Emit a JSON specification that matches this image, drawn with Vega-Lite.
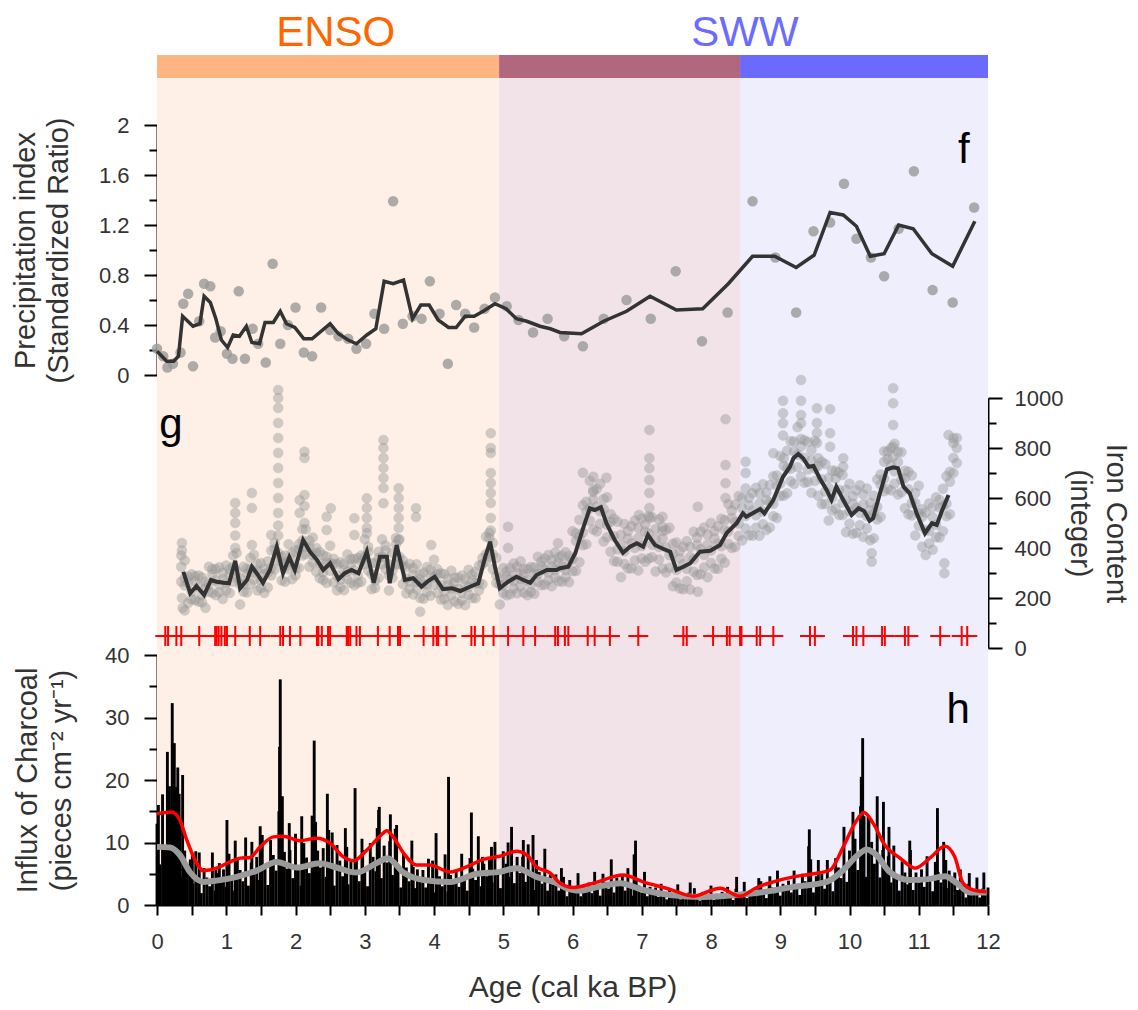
{
"$schema":"https://vega.github.io/schema/vega-lite/v6.json",
"width":831,"height":850,"autosize":"none",
"padding":{"left":157,"top":55,"right":150,"bottom":105},
"background":"white",
"config":{"font":"Liberation Sans","view":{"stroke":null},
"axis":{"domainColor":"#000","domainWidth":2,"tickColor":"#000","tickWidth":2,"labelFont":"Liberation Sans","labelFontSize":22,"labelColor":"#333","titleFont":"Liberation Sans","titleFontSize":29,"titleColor":"#333","titleFontWeight":"normal","grid":false,"labelOverlap":false,"labelFlush":false},
"text":{"font":"Liberation Sans"}},
"datasets":{
"regions":[{"r":"ENSO","s":0,"e":4.94},{"r":"mix","s":4.94,"e":8.42},{"r":"SWW","s":8.42,"e":12}],
"f_line":[{"a":0.0,"v":0.19},{"a":0.14,"v":0.11},{"a":0.24,"v":0.11},{"a":0.31,"v":0.15},{"a":0.37,"v":0.47},{"a":0.52,"v":0.39},{"a":0.62,"v":0.41},{"a":0.68,"v":0.63},{"a":0.77,"v":0.58},{"a":0.85,"v":0.45},{"a":0.93,"v":0.28},{"a":1.02,"v":0.22},{"a":1.10,"v":0.32},{"a":1.19,"v":0.31},{"a":1.29,"v":0.39},{"a":1.37,"v":0.26},{"a":1.48,"v":0.25},{"a":1.56,"v":0.42},{"a":1.68,"v":0.42},{"a":1.78,"v":0.51},{"a":1.87,"v":0.41},{"a":1.99,"v":0.38},{"a":2.12,"v":0.29},{"a":2.24,"v":0.29},{"a":2.50,"v":0.41},{"a":2.62,"v":0.33},{"a":2.76,"v":0.28},{"a":2.88,"v":0.25},{"a":3.03,"v":0.32},{"a":3.16,"v":0.37},{"a":3.28,"v":0.75},{"a":3.41,"v":0.73},{"a":3.56,"v":0.76},{"a":3.69,"v":0.45},{"a":3.81,"v":0.56},{"a":3.93,"v":0.56},{"a":4.06,"v":0.44},{"a":4.21,"v":0.38},{"a":4.32,"v":0.38},{"a":4.45,"v":0.47},{"a":4.58,"v":0.47},{"a":4.71,"v":0.51},{"a":4.88,"v":0.57},{"a":5.04,"v":0.53},{"a":5.19,"v":0.45},{"a":5.34,"v":0.43},{"a":5.53,"v":0.39},{"a":5.68,"v":0.37},{"a":5.82,"v":0.34},{"a":6.13,"v":0.33},{"a":6.45,"v":0.43},{"a":6.78,"v":0.51},{"a":7.12,"v":0.63},{"a":7.50,"v":0.52},{"a":7.88,"v":0.53},{"a":8.25,"v":0.73},{"a":8.60,"v":0.95},{"a":8.92,"v":0.95},{"a":9.23,"v":0.86},{"a":9.49,"v":0.96},{"a":9.72,"v":1.30},{"a":9.91,"v":1.28},{"a":10.10,"v":1.19},{"a":10.30,"v":0.95},{"a":10.50,"v":0.97},{"a":10.71,"v":1.20},{"a":10.92,"v":1.17},{"a":11.19,"v":0.97},{"a":11.49,"v":0.87},{"a":11.81,"v":1.23}],
"f_pts":[{"a":0.0,"v":0.21},{"a":0.09,"v":0.15},{"a":0.15,"v":0.06},{"a":0.23,"v":0.09},{"a":0.34,"v":0.18},{"a":0.38,"v":0.57},{"a":0.45,"v":0.65},{"a":0.52,"v":0.07},{"a":0.61,"v":0.43},{"a":0.68,"v":0.73},{"a":0.77,"v":0.71},{"a":0.84,"v":0.30},{"a":0.92,"v":0.35},{"a":1.01,"v":0.17},{"a":1.09,"v":0.13},{"a":1.18,"v":0.67},{"a":1.27,"v":0.13},{"a":1.38,"v":0.37},{"a":1.46,"v":0.25},{"a":1.57,"v":0.10},{"a":1.67,"v":0.89},{"a":1.78,"v":0.25},{"a":1.89,"v":0.40},{"a":2.00,"v":0.54},{"a":2.12,"v":0.18},{"a":2.24,"v":0.15},{"a":2.37,"v":0.54},{"a":2.50,"v":0.36},{"a":2.62,"v":0.31},{"a":2.76,"v":0.29},{"a":2.88,"v":0.21},{"a":3.02,"v":0.25},{"a":3.14,"v":0.49},{"a":3.28,"v":0.37},{"a":3.41,"v":1.39},{"a":3.55,"v":0.41},{"a":3.69,"v":0.47},{"a":3.82,"v":0.45},{"a":3.94,"v":0.75},{"a":4.08,"v":0.49},{"a":4.20,"v":0.09},{"a":4.32,"v":0.56},{"a":4.45,"v":0.49},{"a":4.58,"v":0.38},{"a":4.73,"v":0.53},{"a":4.88,"v":0.62},{"a":5.05,"v":0.55},{"a":5.22,"v":0.44},{"a":5.43,"v":0.34},{"a":5.64,"v":0.45},{"a":5.88,"v":0.31},{"a":6.15,"v":0.23},{"a":6.45,"v":0.45},{"a":6.78,"v":0.60},{"a":7.13,"v":0.45},{"a":7.49,"v":0.83},{"a":7.87,"v":0.27},{"a":8.24,"v":0.50},{"a":8.60,"v":1.39},{"a":8.93,"v":0.94},{"a":9.23,"v":0.50},{"a":9.48,"v":1.15},{"a":9.72,"v":1.22},{"a":9.92,"v":1.53},{"a":10.10,"v":1.09},{"a":10.31,"v":0.94},{"a":10.50,"v":0.79},{"a":10.71,"v":1.17},{"a":10.93,"v":1.63},{"a":11.20,"v":0.68},{"a":11.49,"v":0.58},{"a":11.80,"v":1.34}],
"g_line":[{"a":0.38,"v":305},{"a":0.48,"v":219},{"a":0.57,"v":248},{"a":0.68,"v":212},{"a":0.78,"v":272},{"a":0.86,"v":265},{"a":0.96,"v":261},{"a":1.04,"v":259},{"a":1.13,"v":349},{"a":1.20,"v":239},{"a":1.30,"v":272},{"a":1.37,"v":325},{"a":1.44,"v":299},{"a":1.53,"v":261},{"a":1.63,"v":312},{"a":1.73,"v":405},{"a":1.82,"v":299},{"a":1.91,"v":363},{"a":1.99,"v":312},{"a":2.11,"v":432},{"a":2.21,"v":385},{"a":2.31,"v":352},{"a":2.40,"v":312},{"a":2.50,"v":339},{"a":2.62,"v":275},{"a":2.71,"v":299},{"a":2.81,"v":312},{"a":2.91,"v":299},{"a":3.03,"v":385},{"a":3.13,"v":261},{"a":3.22,"v":365},{"a":3.32,"v":365},{"a":3.36,"v":259},{"a":3.46,"v":412},{"a":3.58,"v":272},{"a":3.70,"v":279},{"a":3.82,"v":245},{"a":3.92,"v":269},{"a":4.01,"v":285},{"a":4.13,"v":235},{"a":4.26,"v":239},{"a":4.38,"v":228},{"a":4.52,"v":245},{"a":4.64,"v":259},{"a":4.74,"v":365},{"a":4.81,"v":425},{"a":4.88,"v":325},{"a":4.95,"v":239},{"a":5.07,"v":265},{"a":5.19,"v":285},{"a":5.29,"v":272},{"a":5.39,"v":261},{"a":5.48,"v":292},{"a":5.63,"v":312},{"a":5.77,"v":312},{"a":5.82,"v":319},{"a":5.94,"v":325},{"a":6.04,"v":379},{"a":6.16,"v":485},{"a":6.25,"v":559},{"a":6.32,"v":552},{"a":6.41,"v":563},{"a":6.49,"v":499},{"a":6.61,"v":432},{"a":6.73,"v":381},{"a":6.83,"v":405},{"a":6.93,"v":419},{"a":7.02,"v":405},{"a":7.09,"v":452},{"a":7.19,"v":412},{"a":7.29,"v":399},{"a":7.41,"v":385},{"a":7.50,"v":312},{"a":7.60,"v":325},{"a":7.70,"v":339},{"a":7.84,"v":385},{"a":7.99,"v":389},{"a":8.13,"v":412},{"a":8.23,"v":461},{"a":8.37,"v":499},{"a":8.46,"v":539},{"a":8.51,"v":525},{"a":8.71,"v":556},{"a":8.77,"v":539},{"a":8.90,"v":592},{"a":9.04,"v":685},{"a":9.14,"v":725},{"a":9.19,"v":759},{"a":9.26,"v":776},{"a":9.33,"v":759},{"a":9.41,"v":725},{"a":9.48,"v":728},{"a":9.57,"v":679},{"a":9.67,"v":632},{"a":9.74,"v":592},{"a":9.81,"v":645},{"a":9.91,"v":592},{"a":10.03,"v":532},{"a":10.13,"v":559},{"a":10.21,"v":548},{"a":10.29,"v":509},{"a":10.34,"v":519},{"a":10.44,"v":619},{"a":10.54,"v":715},{"a":10.63,"v":723},{"a":10.70,"v":719},{"a":10.78,"v":645},{"a":10.87,"v":619},{"a":10.97,"v":539},{"a":11.09,"v":459},{"a":11.19,"v":499},{"a":11.26,"v":492},{"a":11.33,"v":545},{"a":11.43,"v":612}],
"g_pts":[
{"a":0.35,"v":265},{"a":0.35,"v":325},{"a":0.35,"v":370},{"a":0.40,"v":250},{"a":0.40,"v":280},{"a":0.40,"v":350},{"a":0.45,"v":180},{"a":0.45,"v":260},{"a":0.45,"v":285},{"a":0.50,"v":195},{"a":0.50,"v":225},{"a":0.50,"v":295},{"a":0.55,"v":192},{"a":0.55,"v":267},{"a":0.55,"v":287},{"a":0.60,"v":185},{"a":0.60,"v":245},{"a":0.60,"v":290},{"a":0.65,"v":182},{"a":0.65,"v":212},{"a":0.65,"v":282},{"a":0.70,"v":160},{"a":0.70,"v":240},{"a":0.70,"v":265},{"a":0.75,"v":225},{"a":0.75,"v":255},{"a":0.75,"v":325},{"a":0.80,"v":220},{"a":0.80,"v":295},{"a":0.80,"v":315},{"a":0.85,"v":211},{"a":0.85,"v":271},{"a":0.85,"v":316},{"a":0.90,"v":223},{"a":0.90,"v":253},{"a":0.90,"v":323},{"a":0.95,"v":196},{"a":0.95,"v":276},{"a":0.95,"v":301},{"a":1.00,"v":230},{"a":1.00,"v":260},{"a":1.00,"v":330},{"a":1.05,"v":220},{"a":1.05,"v":295},{"a":1.05,"v":315},{"a":1.10,"v":265},{"a":1.10,"v":325},{"a":1.10,"v":370},{"a":1.15,"v":280},{"a":1.15,"v":310},{"a":1.15,"v":380},{"a":1.20,"v":174},{"a":1.20,"v":254},{"a":1.20,"v":279},{"a":1.25,"v":225},{"a":1.25,"v":255},{"a":1.25,"v":325},{"a":1.30,"v":222},{"a":1.30,"v":297},{"a":1.30,"v":317},{"a":1.35,"v":255},{"a":1.35,"v":315},{"a":1.35,"v":360},{"a":1.40,"v":273},{"a":1.40,"v":303},{"a":1.40,"v":373},{"a":1.45,"v":230},{"a":1.45,"v":310},{"a":1.45,"v":335},{"a":1.50,"v":240},{"a":1.50,"v":270},{"a":1.50,"v":340},{"a":1.55,"v":220},{"a":1.55,"v":295},{"a":1.55,"v":315},{"a":1.60,"v":242},{"a":1.60,"v":302},{"a":1.60,"v":347},{"a":1.65,"v":290},{"a":1.65,"v":320},{"a":1.65,"v":390},{"a":1.70,"v":315},{"a":1.70,"v":395},{"a":1.70,"v":420},{"a":1.75,"v":350},{"a":1.75,"v":380},{"a":1.75,"v":450},{"a":1.80,"v":270},{"a":1.80,"v":345},{"a":1.80,"v":365},{"a":1.85,"v":265},{"a":1.85,"v":325},{"a":1.85,"v":370},{"a":1.90,"v":315},{"a":1.90,"v":345},{"a":1.90,"v":415},{"a":1.95,"v":275},{"a":1.95,"v":355},{"a":1.95,"v":380},{"a":2.00,"v":290},{"a":2.00,"v":320},{"a":2.00,"v":390},{"a":2.05,"v":320},{"a":2.05,"v":395},{"a":2.05,"v":415},{"a":2.10,"v":370},{"a":2.10,"v":430},{"a":2.10,"v":475},{"a":2.15,"v":375},{"a":2.15,"v":405},{"a":2.15,"v":475},{"a":2.20,"v":325},{"a":2.20,"v":405},{"a":2.20,"v":430},{"a":2.25,"v":342},{"a":2.25,"v":372},{"a":2.25,"v":442},{"a":2.30,"v":305},{"a":2.30,"v":380},{"a":2.30,"v":400},{"a":2.35,"v":279},{"a":2.35,"v":339},{"a":2.35,"v":384},{"a":2.40,"v":272},{"a":2.40,"v":302},{"a":2.40,"v":372},{"a":2.45,"v":260},{"a":2.45,"v":340},{"a":2.45,"v":365},{"a":2.50,"v":309},{"a":2.50,"v":339},{"a":2.50,"v":409},{"a":2.55,"v":262},{"a":2.55,"v":337},{"a":2.55,"v":357},{"a":2.60,"v":230},{"a":2.60,"v":290},{"a":2.60,"v":335},{"a":2.65,"v":243},{"a":2.65,"v":273},{"a":2.65,"v":343},{"a":2.70,"v":231},{"a":2.70,"v":311},{"a":2.70,"v":336},{"a":2.75,"v":274},{"a":2.75,"v":304},{"a":2.75,"v":374},{"a":2.80,"v":261},{"a":2.80,"v":336},{"a":2.80,"v":356},{"a":2.85,"v":251},{"a":2.85,"v":311},{"a":2.85,"v":356},{"a":2.90,"v":260},{"a":2.90,"v":290},{"a":2.90,"v":360},{"a":2.95,"v":265},{"a":2.95,"v":345},{"a":2.95,"v":370},{"a":3.00,"v":335},{"a":3.00,"v":365},{"a":3.00,"v":435},{"a":3.05,"v":310},{"a":3.05,"v":385},{"a":3.05,"v":405},{"a":3.10,"v":235},{"a":3.10,"v":295},{"a":3.10,"v":340},{"a":3.15,"v":240},{"a":3.15,"v":270},{"a":3.15,"v":340},{"a":3.20,"v":280},{"a":3.20,"v":360},{"a":3.20,"v":385},{"a":3.25,"v":335},{"a":3.25,"v":365},{"a":3.25,"v":435},{"a":3.30,"v":315},{"a":3.30,"v":390},{"a":3.30,"v":410},{"a":3.35,"v":230},{"a":3.35,"v":290},{"a":3.35,"v":335},{"a":3.40,"v":280},{"a":3.40,"v":310},{"a":3.40,"v":380},{"a":3.45,"v":335},{"a":3.45,"v":415},{"a":3.45,"v":440},{"a":3.50,"v":335},{"a":3.50,"v":365},{"a":3.50,"v":435},{"a":3.55,"v":255},{"a":3.55,"v":330},{"a":3.55,"v":350},{"a":3.60,"v":218},{"a":3.60,"v":278},{"a":3.60,"v":323},{"a":3.65,"v":236},{"a":3.65,"v":266},{"a":3.65,"v":336},{"a":3.70,"v":214},{"a":3.70,"v":294},{"a":3.70,"v":319},{"a":3.75,"v":235},{"a":3.75,"v":265},{"a":3.75,"v":335},{"a":3.80,"v":200},{"a":3.80,"v":275},{"a":3.80,"v":295},{"a":3.85,"v":197},{"a":3.85,"v":257},{"a":3.85,"v":302},{"a":3.90,"v":224},{"a":3.90,"v":254},{"a":3.90,"v":324},{"a":3.95,"v":209},{"a":3.95,"v":289},{"a":3.95,"v":314},{"a":4.00,"v":253},{"a":4.00,"v":283},{"a":4.00,"v":353},{"a":4.05,"v":220},{"a":4.05,"v":295},{"a":4.05,"v":315},{"a":4.10,"v":193},{"a":4.10,"v":253},{"a":4.10,"v":298},{"a":4.15,"v":196},{"a":4.15,"v":226},{"a":4.15,"v":296},{"a":4.20,"v":172},{"a":4.20,"v":252},{"a":4.20,"v":277},{"a":4.25,"v":209},{"a":4.25,"v":239},{"a":4.25,"v":309},{"a":4.30,"v":186},{"a":4.30,"v":261},{"a":4.30,"v":281},{"a":4.35,"v":176},{"a":4.35,"v":236},{"a":4.35,"v":281},{"a":4.40,"v":190},{"a":4.40,"v":220},{"a":4.40,"v":290},{"a":4.45,"v":171},{"a":4.45,"v":251},{"a":4.45,"v":276},{"a":4.50,"v":213},{"a":4.50,"v":243},{"a":4.50,"v":313},{"a":4.55,"v":199},{"a":4.55,"v":274},{"a":4.55,"v":294},{"a":4.60,"v":199},{"a":4.60,"v":259},{"a":4.60,"v":304},{"a":4.65,"v":230},{"a":4.65,"v":260},{"a":4.65,"v":330},{"a":4.70,"v":255},{"a":4.70,"v":335},{"a":4.70,"v":360},{"a":4.75,"v":345},{"a":4.75,"v":375},{"a":4.75,"v":445},{"a":4.80,"v":365},{"a":4.80,"v":440},{"a":4.80,"v":460},{"a":4.85,"v":315},{"a":4.85,"v":375},{"a":4.85,"v":420},{"a":4.90,"v":260},{"a":4.90,"v":290},{"a":4.90,"v":360},{"a":4.95,"v":174},{"a":4.95,"v":254},{"a":4.95,"v":279},{"a":5.00,"v":220},{"a":5.00,"v":250},{"a":5.00,"v":320},{"a":5.05,"v":211},{"a":5.05,"v":286},{"a":5.05,"v":306},{"a":5.10,"v":215},{"a":5.10,"v":275},{"a":5.10,"v":320},{"a":5.15,"v":238},{"a":5.15,"v":268},{"a":5.15,"v":338},{"a":5.20,"v":219},{"a":5.20,"v":299},{"a":5.20,"v":324},{"a":5.25,"v":247},{"a":5.25,"v":277},{"a":5.25,"v":347},{"a":5.30,"v":221},{"a":5.30,"v":296},{"a":5.30,"v":316},{"a":5.35,"v":211},{"a":5.35,"v":271},{"a":5.35,"v":316},{"a":5.40,"v":224},{"a":5.40,"v":254},{"a":5.40,"v":324},{"a":5.45,"v":217},{"a":5.45,"v":297},{"a":5.45,"v":322},{"a":5.50,"v":265},{"a":5.50,"v":295},{"a":5.50,"v":365},{"a":5.55,"v":251},{"a":5.55,"v":326},{"a":5.55,"v":346},{"a":5.60,"v":253},{"a":5.60,"v":313},{"a":5.60,"v":358},{"a":5.65,"v":272},{"a":5.65,"v":302},{"a":5.65,"v":372},{"a":5.70,"v":247},{"a":5.70,"v":327},{"a":5.70,"v":352},{"a":5.75,"v":282},{"a":5.75,"v":312},{"a":5.75,"v":382},{"a":5.80,"v":267},{"a":5.80,"v":342},{"a":5.80,"v":362},{"a":5.85,"v":265},{"a":5.85,"v":325},{"a":5.85,"v":370},{"a":5.90,"v":283},{"a":5.90,"v":313},{"a":5.90,"v":383},{"a":5.95,"v":263},{"a":5.95,"v":343},{"a":5.95,"v":368},
{"a":6.00,"v":307},{"a":6.00,"v":357},{"a":6.00,"v":467},{"a":6.05,"v":308},{"a":6.05,"v":428},{"a":6.05,"v":458},{"a":6.10,"v":343},{"a":6.10,"v":443},{"a":6.10,"v":513},{"a":6.15,"v":411},{"a":6.15,"v":461},{"a":6.15,"v":571},{"a":6.20,"v":415},{"a":6.20,"v":545},{"a":6.20,"v":585},{"a":6.25,"v":509},{"a":6.25,"v":559},{"a":6.25,"v":669},{"a":6.30,"v":474},{"a":6.30,"v":594},{"a":6.30,"v":624},{"a":6.35,"v":466},{"a":6.35,"v":566},{"a":6.35,"v":636},{"a":6.40,"v":497},{"a":6.40,"v":547},{"a":6.40,"v":657},{"a":6.45,"v":426},{"a":6.45,"v":556},{"a":6.45,"v":596},{"a":6.50,"v":443},{"a":6.50,"v":493},{"a":6.50,"v":603},{"a":6.55,"v":385},{"a":6.55,"v":505},{"a":6.55,"v":535},{"a":6.60,"v":347},{"a":6.60,"v":447},{"a":6.60,"v":517},{"a":6.65,"v":345},{"a":6.65,"v":395},{"a":6.65,"v":505},{"a":6.70,"v":283},{"a":6.70,"v":413},{"a":6.70,"v":453},{"a":6.75,"v":336},{"a":6.75,"v":386},{"a":6.75,"v":496},{"a":6.80,"v":318},{"a":6.80,"v":438},{"a":6.80,"v":468},{"a":6.85,"v":318},{"a":6.85,"v":418},{"a":6.85,"v":488},{"a":6.90,"v":350},{"a":6.90,"v":400},{"a":6.90,"v":510},{"a":6.95,"v":310},{"a":6.95,"v":440},{"a":6.95,"v":480},{"a":7.00,"v":358},{"a":7.00,"v":408},{"a":7.00,"v":518},{"a":7.05,"v":345},{"a":7.05,"v":465},{"a":7.05,"v":495},{"a":7.10,"v":358},{"a":7.10,"v":458},{"a":7.10,"v":528},{"a":7.15,"v":363},{"a":7.15,"v":413},{"a":7.15,"v":523},{"a":7.20,"v":306},{"a":7.20,"v":436},{"a":7.20,"v":476},{"a":7.25,"v":354},{"a":7.25,"v":404},{"a":7.25,"v":514},{"a":7.30,"v":318},{"a":7.30,"v":438},{"a":7.30,"v":468},{"a":7.35,"v":302},{"a":7.35,"v":402},{"a":7.35,"v":472},{"a":7.40,"v":321},{"a":7.40,"v":371},{"a":7.40,"v":481},{"a":7.45,"v":247},{"a":7.45,"v":377},{"a":7.45,"v":417},{"a":7.50,"v":262},{"a":7.50,"v":312},{"a":7.50,"v":422},{"a":7.55,"v":238},{"a":7.55,"v":358},{"a":7.55,"v":388},{"a":7.60,"v":235},{"a":7.60,"v":335},{"a":7.60,"v":405},{"a":7.65,"v":267},{"a":7.65,"v":317},{"a":7.65,"v":427},{"a":7.70,"v":234},{"a":7.70,"v":364},{"a":7.70,"v":404},{"a":7.75,"v":305},{"a":7.75,"v":355},{"a":7.75,"v":465},{"a":7.80,"v":292},{"a":7.80,"v":412},{"a":7.80,"v":442},{"a":7.85,"v":295},{"a":7.85,"v":395},{"a":7.85,"v":465},{"a":7.90,"v":322},{"a":7.90,"v":372},{"a":7.90,"v":482},{"a":7.95,"v":283},{"a":7.95,"v":413},{"a":7.95,"v":453},{"a":8.00,"v":340},{"a":8.00,"v":390},{"a":8.00,"v":500},{"a":8.05,"v":318},{"a":8.05,"v":438},{"a":8.05,"v":468},{"a":8.10,"v":317},{"a":8.10,"v":417},{"a":8.10,"v":487},{"a":8.15,"v":357},{"a":8.15,"v":407},{"a":8.15,"v":517},{"a":8.20,"v":341},{"a":8.20,"v":471},{"a":8.20,"v":511},{"a":8.25,"v":416},{"a":8.25,"v":466},{"a":8.25,"v":576},{"a":8.30,"v":400},{"a":8.30,"v":520},{"a":8.30,"v":550},{"a":8.35,"v":404},{"a":8.35,"v":504},{"a":8.35,"v":574},{"a":8.40,"v":448},{"a":8.40,"v":498},{"a":8.40,"v":608},{"a":8.45,"v":430},{"a":8.45,"v":560},{"a":8.45,"v":600},{"a":8.50,"v":478},{"a":8.50,"v":528},{"a":8.50,"v":638},{"a":8.55,"v":451},{"a":8.55,"v":571},{"a":8.55,"v":601},{"a":8.60,"v":449},{"a":8.60,"v":549},{"a":8.60,"v":619},{"a":8.65,"v":481},{"a":8.65,"v":531},{"a":8.65,"v":641},{"a":8.70,"v":449},{"a":8.70,"v":579},{"a":8.70,"v":619},{"a":8.75,"v":495},{"a":8.75,"v":545},{"a":8.75,"v":655},{"a":8.80,"v":472},{"a":8.80,"v":592},{"a":8.80,"v":622},{"a":8.85,"v":482},{"a":8.85,"v":582},{"a":8.85,"v":652},{"a":8.90,"v":527},{"a":8.90,"v":577},{"a":8.90,"v":687},{"a":8.95,"v":520},{"a":8.95,"v":650},{"a":8.95,"v":690},{"a":9.00,"v":608},{"a":9.00,"v":658},{"a":9.00,"v":768},{"a":9.05,"v":609},{"a":9.05,"v":729},{"a":9.05,"v":759},{"a":9.10,"v":619},{"a":9.10,"v":719},{"a":9.10,"v":789},{"a":9.15,"v":667},{"a":9.15,"v":717},{"a":9.15,"v":827},{"a":9.20,"v":656},{"a":9.20,"v":786},{"a":9.20,"v":826},{"a":9.25,"v":723},{"a":9.25,"v":773},{"a":9.25,"v":883},{"a":9.30,"v":686},{"a":9.30,"v":806},{"a":9.30,"v":836},{"a":9.35,"v":661},{"a":9.35,"v":761},{"a":9.35,"v":831},{"a":9.40,"v":664},{"a":9.40,"v":714},{"a":9.40,"v":824},{"a":9.45,"v":621},{"a":9.45,"v":751},{"a":9.45,"v":791},{"a":9.50,"v":668},{"a":9.50,"v":718},{"a":9.50,"v":828},{"a":9.55,"v":609},{"a":9.55,"v":729},{"a":9.55,"v":759},{"a":9.60,"v":575},{"a":9.60,"v":675},{"a":9.60,"v":745},{"a":9.65,"v":576},{"a":9.65,"v":626},{"a":9.65,"v":736},{"a":9.70,"v":510},{"a":9.70,"v":640},{"a":9.70,"v":680},{"a":9.75,"v":550},{"a":9.75,"v":600},{"a":9.75,"v":710},{"a":9.80,"v":558},{"a":9.80,"v":678},{"a":9.80,"v":708},{"a":9.85,"v":532},{"a":9.85,"v":632},{"a":9.85,"v":702},{"a":9.90,"v":532},{"a":9.90,"v":582},{"a":9.90,"v":692},{"a":9.95,"v":463},{"a":9.95,"v":593},{"a":9.95,"v":633},{"a":10.00,"v":497},{"a":10.00,"v":547},{"a":10.00,"v":657},{"a":10.05,"v":457},{"a":10.05,"v":577},{"a":10.05,"v":607},{"a":10.10,"v":461},{"a":10.10,"v":561},{"a":10.10,"v":631},{"a":10.15,"v":491},{"a":10.15,"v":541},{"a":10.15,"v":651},{"a":10.20,"v":444},{"a":10.20,"v":574},{"a":10.20,"v":614},{"a":10.25,"v":478},{"a":10.25,"v":528},{"a":10.25,"v":638},{"a":10.30,"v":431},{"a":10.30,"v":551},{"a":10.30,"v":581},{"a":10.35,"v":439},{"a":10.35,"v":539},{"a":10.35,"v":609},{"a":10.40,"v":514},{"a":10.40,"v":564},{"a":10.40,"v":674},{"a":10.45,"v":524},{"a":10.45,"v":654},{"a":10.45,"v":694},{"a":10.50,"v":627},{"a":10.50,"v":677},{"a":10.50,"v":787},{"a":10.55,"v":636},{"a":10.55,"v":756},{"a":10.55,"v":786},{"a":10.60,"v":630},{"a":10.60,"v":730},{"a":10.60,"v":800},{"a":10.65,"v":657},{"a":10.65,"v":707},{"a":10.65,"v":817},{"a":10.70,"v":614},{"a":10.70,"v":744},{"a":10.70,"v":784},{"a":10.75,"v":623},{"a":10.75,"v":673},{"a":10.75,"v":783},{"a":10.80,"v":559},{"a":10.80,"v":679},{"a":10.80,"v":709},{"a":10.85,"v":535},{"a":10.85,"v":635},{"a":10.85,"v":705},{"a":10.90,"v":530},{"a":10.90,"v":580},{"a":10.90,"v":690},{"a":10.95,"v":450},{"a":10.95,"v":580},{"a":10.95,"v":620},{"a":11.00,"v":489},{"a":11.00,"v":539},{"a":11.00,"v":649},{"a":11.05,"v":405},{"a":11.05,"v":525},{"a":11.05,"v":555},{"a":11.10,"v":372},{"a":11.10,"v":472},{"a":11.10,"v":542},{"a":11.15,"v":418},{"a":11.15,"v":468},{"a":11.15,"v":578},{"a":11.20,"v":393},{"a":11.20,"v":523},{"a":11.20,"v":563},{"a":11.25,"v":443},{"a":11.25,"v":493},{"a":11.25,"v":603},{"a":11.30,"v":442},{"a":11.30,"v":562},{"a":11.30,"v":592},{"a":11.35,"v":467},{"a":11.35,"v":567},{"a":11.35,"v":637},{"a":11.40,"v":527},{"a":11.40,"v":577},{"a":11.40,"v":687},{"a":11.45,"v":535},{"a":11.45,"v":665},{"a":11.45,"v":705},{"a":11.50,"v":700},{"a":11.50,"v":760},{"a":11.50,"v":820},{"a":11.55,"v":740},{"a":11.55,"v":800},{"a":11.55,"v":840},
{"a":0.36,"v":200},{"a":0.36,"v":420},{"a":0.36,"v":390},{"a":0.37,"v":160},{"a":0.40,"v":150},{"a":1.13,"v":400},{"a":1.13,"v":450},{"a":1.13,"v":500},{"a":1.13,"v":540},{"a":1.13,"v":580},{"a":1.37,"v":412},{"a":1.37,"v":560},{"a":1.37,"v":620},{"a":1.65,"v":452},{"a":1.75,"v":490},{"a":1.75,"v":540},{"a":1.75,"v":600},{"a":1.75,"v":660},{"a":1.75,"v":720},{"a":1.75,"v":780},{"a":1.75,"v":840},{"a":1.75,"v":900},{"a":1.75,"v":960},{"a":1.75,"v":1000},{"a":1.75,"v":1032},{"a":2.06,"v":592},{"a":2.06,"v":540},{"a":2.13,"v":785},{"a":2.13,"v":760},{"a":2.13,"v":612},{"a":2.13,"v":568},{"a":2.13,"v":500},{"a":2.45,"v":525},{"a":2.45,"v":472},{"a":2.51,"v":559},{"a":2.85,"v":519},{"a":2.85,"v":452},{"a":3.03,"v":599},{"a":3.03,"v":560},{"a":3.03,"v":520},{"a":3.03,"v":480},{"a":3.03,"v":459},{"a":3.27,"v":832},{"a":3.27,"v":800},{"a":3.27,"v":760},{"a":3.27,"v":720},{"a":3.27,"v":680},{"a":3.27,"v":640},{"a":3.27,"v":579},{"a":3.49,"v":639},{"a":3.49,"v":600},{"a":3.49,"v":560},{"a":3.49,"v":520},{"a":3.49,"v":480},{"a":3.49,"v":432},{"a":3.74,"v":559},{"a":3.74,"v":524},{"a":3.80,"v":145},{"a":3.96,"v":412},{"a":4.82,"v":859},{"a":4.82,"v":800},{"a":4.82,"v":780},{"a":4.82,"v":700},{"a":4.82,"v":660},{"a":4.82,"v":620},{"a":4.82,"v":580},{"a":4.82,"v":520},{"a":4.82,"v":470},{"a":5.07,"v":485},{"a":5.07,"v":400},{"a":5.79,"v":419},{"a":6.15,"v":701},{"a":6.30,"v":685},{"a":6.30,"v":632},{"a":6.49,"v":681},{"a":6.96,"v":532},{"a":7.11,"v":872},{"a":7.11,"v":759},{"a":7.11,"v":719},{"a":7.11,"v":672},{"a":7.11,"v":620},{"a":7.11,"v":560},{"a":7.11,"v":520},{"a":7.30,"v":525},{"a":7.30,"v":485},{"a":7.81,"v":565},{"a":7.81,"v":225},{"a":8.21,"v":915},{"a":8.21,"v":732},{"a":8.21,"v":659},{"a":8.21,"v":600},{"a":8.50,"v":745},{"a":8.50,"v":700},{"a":8.90,"v":779},{"a":9.04,"v":989},{"a":9.04,"v":939},{"a":9.04,"v":899},{"a":9.04,"v":850},{"a":9.30,"v":1072},{"a":9.30,"v":989},{"a":9.30,"v":932},{"a":9.30,"v":899},{"a":9.53,"v":959},{"a":9.53,"v":900},{"a":9.53,"v":860},{"a":9.53,"v":820},{"a":9.72,"v":955},{"a":9.72,"v":859},{"a":9.72,"v":805},{"a":9.91,"v":759},{"a":9.91,"v":725},{"a":10.32,"v":379},{"a":10.32,"v":345},{"a":10.50,"v":745},{"a":10.63,"v":1039},{"a":10.63,"v":979},{"a":10.63,"v":892},{"a":10.63,"v":805},{"a":10.63,"v":765},{"a":11.37,"v":339},{"a":11.37,"v":299},{"a":11.43,"v":852},{"a":11.50,"v":839}],
"crosses":[{"a":0.12},{"a":0.16},{"a":0.28},{"a":0.35},{"a":0.61},{"a":0.84},{"a":0.86},{"a":0.89},{"a":0.93},{"a":0.98},{"a":1.01},{"a":1.13},{"a":1.34},{"a":1.49},{"a":1.78},{"a":1.82},{"a":1.92},{"a":2.07},{"a":2.31},{"a":2.33},{"a":2.38},{"a":2.47},{"a":2.50},{"a":2.74},{"a":2.76},{"a":2.79},{"a":2.88},{"a":2.93},{"a":3.19},{"a":3.36},{"a":3.48},{"a":3.51},{"a":3.85},{"a":3.99},{"a":4.04},{"a":4.06},{"a":4.18},{"a":4.54},{"a":4.59},{"a":4.71},{"a":4.86},{"a":5.07},{"a":5.29},{"a":5.46},{"a":5.75},{"a":5.79},{"a":5.89},{"a":5.94},{"a":6.22},{"a":6.32},{"a":6.54},{"a":6.95},{"a":7.60},{"a":7.65},{"a":8.03},{"a":8.23},{"a":8.27},{"a":8.42},{"a":8.44},{"a":8.66},{"a":8.71},{"a":8.90},{"a":9.43},{"a":9.50},{"a":10.05},{"a":10.10},{"a":10.20},{"a":10.47},{"a":10.51},{"a":10.80},{"a":10.85},{"a":11.31},{"a":11.62},{"a":11.70}],
"h_bars":[{"a":0.00,"v":13.0},{"a":0.04,"v":6.5},{"a":0.08,"v":17.7},{"a":0.12,"v":9.2},{"a":0.16,"v":4.6},{"a":0.20,"v":14.7},{"a":0.24,"v":10.7},{"a":0.28,"v":6.7},{"a":0.32,"v":17.8},{"a":0.36,"v":4.5},{"a":0.40,"v":8.7},{"a":0.44,"v":5.3},{"a":0.48,"v":7.3},{"a":0.52,"v":3.4},{"a":0.56,"v":8.6},{"a":0.60,"v":4.2},{"a":0.64,"v":1.9},{"a":0.68,"v":5.9},{"a":0.72,"v":4.4},{"a":0.76,"v":3.0},{"a":0.80,"v":8.4},{"a":0.84,"v":2.3},{"a":0.88,"v":5.1},{"a":0.92,"v":3.6},{"a":0.96,"v":5.7},{"a":1.00,"v":2.9},{"a":1.04,"v":8.2},{"a":1.08,"v":4.4},{"a":1.12,"v":2.3},{"a":1.16,"v":7.2},{"a":1.20,"v":5.6},{"a":1.24,"v":3.8},{"a":1.28,"v":10.8},{"a":1.32,"v":3.1},{"a":1.36,"v":6.8},{"a":1.40,"v":4.9},{"a":1.44,"v":7.7},{"a":1.48,"v":4.0},{"a":1.52,"v":11.2},{"a":1.56,"v":6.1},{"a":1.60,"v":3.2},{"a":1.64,"v":10.4},{"a":1.68,"v":8.0},{"a":1.72,"v":5.5},{"a":1.76,"v":15.0},{"a":1.80,"v":4.0},{"a":1.84,"v":8.5},{"a":1.88,"v":5.8},{"a":1.92,"v":8.8},{"a":1.96,"v":4.3},{"a":2.00,"v":11.4},{"a":2.04,"v":6.0},{"a":2.08,"v":3.1},{"a":2.12,"v":9.9},{"a":2.16,"v":7.6},{"a":2.20,"v":5.1},{"a":2.24,"v":14.3},{"a":2.28,"v":4.0},{"a":2.32,"v":8.7},{"a":2.36,"v":6.0},{"a":2.40,"v":9.1},{"a":2.44,"v":4.5},{"a":2.48,"v":12.0},{"a":2.52,"v":6.2},{"a":2.56,"v":3.1},{"a":2.60,"v":9.6},{"a":2.64,"v":7.1},{"a":2.68,"v":4.6},{"a":2.72,"v":12.3},{"a":2.76,"v":3.3},{"a":2.80,"v":7.0},{"a":2.84,"v":4.8},{"a":2.88,"v":7.3},{"a":2.92,"v":3.8},{"a":2.96,"v":10.6},{"a":3.00,"v":5.8},{"a":3.04,"v":3.0},{"a":3.08,"v":9.9},{"a":3.12,"v":7.7},{"a":3.16,"v":5.4},{"a":3.20,"v":15.2},{"a":3.24,"v":4.3},{"a":3.28,"v":9.5},{"a":3.32,"v":6.8},{"a":3.36,"v":10.2},{"a":3.40,"v":4.8},{"a":3.44,"v":12.2},{"a":3.48,"v":6.0},{"a":3.52,"v":2.8},{"a":3.56,"v":8.3},{"a":3.60,"v":6.0},{"a":3.64,"v":3.8},{"a":3.68,"v":10.3},{"a":3.72,"v":2.7},{"a":3.76,"v":5.7},{"a":3.80,"v":3.8},{"a":3.84,"v":5.6},{"a":3.88,"v":2.8},{"a":3.92,"v":7.4},{"a":3.96,"v":3.9},{"a":4.00,"v":2.0},{"a":4.04,"v":6.1},{"a":4.08,"v":4.6},{"a":4.12,"v":3.0},{"a":4.16,"v":8.1},{"a":4.20,"v":2.2},{"a":4.24,"v":4.8},{"a":4.28,"v":3.4},{"a":4.32,"v":5.6},{"a":4.36,"v":2.9},{"a":4.40,"v":8.2},{"a":4.44,"v":4.4},{"a":4.48,"v":2.3},{"a":4.52,"v":7.5},{"a":4.56,"v":5.8},{"a":4.60,"v":4.0},{"a":4.64,"v":11.0},{"a":4.68,"v":3.0},{"a":4.72,"v":6.6},{"a":4.76,"v":4.6},{"a":4.80,"v":7.3},{"a":4.84,"v":3.6},{"a":4.88,"v":10.1},{"a":4.92,"v":5.3},{"a":4.96,"v":2.7},{"a":5.00,"v":8.6},{"a":5.04,"v":6.6},{"a":5.08,"v":4.5},{"a":5.12,"v":12.5},{"a":5.16,"v":3.5},{"a":5.20,"v":7.7},{"a":5.24,"v":5.1},{"a":5.28,"v":7.7},{"a":5.32,"v":3.7},{"a":5.36,"v":9.7},{"a":5.40,"v":4.9},{"a":5.44,"v":2.4},{"a":5.48,"v":7.2},{"a":5.52,"v":5.3},{"a":5.56,"v":3.4},{"a":5.60,"v":9.0},{"a":5.64,"v":2.3},{"a":5.68,"v":4.9},{"a":5.72,"v":3.3},{"a":5.76,"v":4.9},{"a":5.80,"v":2.3},{"a":5.84,"v":5.9},{"a":5.88,"v":2.9},{"a":5.92,"v":1.4},{"a":5.96,"v":4.0},{"a":6.00,"v":2.9},{"a":6.04,"v":1.9},{"a":6.08,"v":5.1},{"a":6.12,"v":1.4},{"a":6.16,"v":3.1},{"a":6.20,"v":2.3},{"a":6.24,"v":3.6},{"a":6.28,"v":1.9},{"a":6.32,"v":5.3},{"a":6.36,"v":2.9},{"a":6.40,"v":1.5},{"a":6.44,"v":5.0},{"a":6.48,"v":3.7},{"a":6.52,"v":2.6},{"a":6.56,"v":7.3},{"a":6.60,"v":2.0},{"a":6.64,"v":4.4},{"a":6.68,"v":3.2},{"a":6.72,"v":4.8},{"a":6.76,"v":2.3},{"a":6.80,"v":5.9},{"a":6.84,"v":3.0},{"a":6.88,"v":1.5},{"a":6.92,"v":4.3},{"a":6.96,"v":3.1},{"a":7.00,"v":2.0},{"a":7.04,"v":5.3},{"a":7.08,"v":1.4},{"a":7.12,"v":2.9},{"a":7.16,"v":1.9},{"a":7.20,"v":2.8},{"a":7.24,"v":1.3},{"a":7.28,"v":3.4},{"a":7.32,"v":1.8},{"a":7.36,"v":0.9},{"a":7.40,"v":2.6},{"a":7.44,"v":1.9},{"a":7.48,"v":1.2},{"a":7.52,"v":3.3},{"a":7.56,"v":0.9},{"a":7.60,"v":1.8},{"a":7.64,"v":1.3},{"a":7.68,"v":2.0},{"a":7.72,"v":1.0},{"a":7.76,"v":2.7},{"a":7.80,"v":1.3},{"a":7.84,"v":0.7},{"a":7.88,"v":2.1},{"a":7.92,"v":1.6},{"a":7.96,"v":1.0},{"a":8.00,"v":3.1},{"a":8.04,"v":0.8},{"a":8.08,"v":1.8},{"a":8.12,"v":1.3},{"a":8.16,"v":2.1},{"a":8.20,"v":1.1},{"a":8.24,"v":2.9},{"a":8.28,"v":1.5},{"a":8.32,"v":0.8},{"a":8.36,"v":2.6},{"a":8.40,"v":1.9},{"a":8.44,"v":1.4},{"a":8.48,"v":3.7},{"a":8.52,"v":1.1},{"a":8.56,"v":2.3},{"a":8.60,"v":1.7},{"a":8.64,"v":2.7},{"a":8.68,"v":1.4},{"a":8.72,"v":3.8},{"a":8.76,"v":2.1},{"a":8.80,"v":1.1},{"a":8.84,"v":3.5},{"a":8.88,"v":2.8},{"a":8.92,"v":1.9},{"a":8.96,"v":5.5},{"a":9.00,"v":1.5},{"a":9.04,"v":3.4},{"a":9.08,"v":2.4},{"a":9.12,"v":3.9},{"a":9.16,"v":2.0},{"a":9.20,"v":5.5},{"a":9.24,"v":3.0},{"a":9.28,"v":1.6},{"a":9.32,"v":5.0},{"a":9.36,"v":3.8},{"a":9.40,"v":2.6},{"a":9.44,"v":7.3},{"a":9.48,"v":2.0},{"a":9.52,"v":4.6},{"a":9.56,"v":3.2},{"a":9.60,"v":5.0},{"a":9.64,"v":2.6},{"a":9.68,"v":7.2},{"a":9.72,"v":4.0},{"a":9.76,"v":2.2},{"a":9.80,"v":7.5},{"a":9.84,"v":6.0},{"a":9.88,"v":4.3},{"a":9.92,"v":12.5},{"a":9.96,"v":3.7},{"a":10.00,"v":8.7},{"a":10.04,"v":6.4},{"a":10.08,"v":10.6},{"a":10.12,"v":5.6},{"a":10.16,"v":15.8},{"a":10.20,"v":8.6},{"a":10.24,"v":4.5},{"a":10.28,"v":13.9},{"a":10.32,"v":10.1},{"a":10.36,"v":6.6},{"a":10.40,"v":17.4},{"a":10.44,"v":4.4},{"a":10.48,"v":8.8},{"a":10.52,"v":5.6},{"a":10.56,"v":7.8},{"a":10.60,"v":3.6},{"a":10.64,"v":9.5},{"a":10.68,"v":4.8},{"a":10.72,"v":2.3},{"a":10.76,"v":7.0},{"a":10.80,"v":5.2},{"a":10.84,"v":3.3},{"a":10.88,"v":8.8},{"a":10.92,"v":2.4},{"a":10.96,"v":5.2},{"a":11.00,"v":3.6},{"a":11.04,"v":5.7},{"a":11.08,"v":2.9},{"a":11.12,"v":7.8},{"a":11.16,"v":4.2},{"a":11.20,"v":2.2},{"a":11.24,"v":6.9},{"a":11.28,"v":5.3},{"a":11.32,"v":3.6},{"a":11.36,"v":10.1},{"a":11.40,"v":2.7},{"a":11.44,"v":5.5},{"a":11.48,"v":3.6},{"a":11.52,"v":5.2},{"a":11.56,"v":2.4},{"a":11.60,"v":5.7},{"a":11.64,"v":2.7},{"a":11.68,"v":1.2},{"a":11.72,"v":3.4},{"a":11.76,"v":2.4},{"a":11.80,"v":1.6},{"a":11.84,"v":4.4},{"a":11.88,"v":1.2},{"a":11.92,"v":2.6},{"a":11.96,"v":1.8},{"a":12.00,"v":2.8},
{"a":0.02,"v":16.0},{"a":0.15,"v":24.5},{"a":0.18,"v":19.0},{"a":0.22,"v":32.3},{"a":0.25,"v":25.9},{"a":0.27,"v":18.9},{"a":0.30,"v":22.0},{"a":0.33,"v":13.1},{"a":0.37,"v":20.8},{"a":0.51,"v":8.3},{"a":0.61,"v":8.4},{"a":0.85,"v":5.9},{"a":0.90,"v":6.7},{"a":1.01,"v":13.6},{"a":1.13,"v":10.3},{"a":1.37,"v":10.1},{"a":1.49,"v":12.6},{"a":1.77,"v":25.3},{"a":1.78,"v":36.1},{"a":1.81,"v":17.4},{"a":1.91,"v":13.1},{"a":2.09,"v":14.2},{"a":2.27,"v":26.3},{"a":2.29,"v":13.3},{"a":2.46,"v":17.8},{"a":2.53,"v":11.6},{"a":2.74,"v":9.3},{"a":2.86,"v":18.7},{"a":2.97,"v":8.8},{"a":3.18,"v":12.3},{"a":3.21,"v":15.7},{"a":3.37,"v":14.5},{"a":3.46,"v":12.8},{"a":3.70,"v":6.1},{"a":3.98,"v":7.1},{"a":4.03,"v":11.5},{"a":4.21,"v":20.5},{"a":4.54,"v":14.8},{"a":4.70,"v":7.7},{"a":4.83,"v":9.3},{"a":5.07,"v":10.0},{"a":5.29,"v":10.4},{"a":5.43,"v":11.2},{"a":5.87,"v":4.5},{"a":6.89,"v":8.1},{"a":6.91,"v":10.3},{"a":7.70,"v":3.6},{"a":8.37,"v":4.5},{"a":8.69,"v":4.3},{"a":8.85,"v":4.6},{"a":9.41,"v":9.4},{"a":9.42,"v":12.1},{"a":9.55,"v":7.2},{"a":10.05,"v":14.9},{"a":10.17,"v":20.5},{"a":10.19,"v":26.7},{"a":10.21,"v":14.2},{"a":10.27,"v":14.1},{"a":10.49,"v":16.5},{"a":10.57,"v":12.5},{"a":10.87,"v":10.3},{"a":11.27,"v":15.5},{"a":11.39,"v":7.2},{"a":11.73,"v":5.1},{"a":11.94,"v":5.2}],
"h_grey":[{"a":0.0,"v":9.3},{"a":0.19,"v":9.2},{"a":0.33,"v":8.0},{"a":0.48,"v":5.2},{"a":0.67,"v":3.7},{"a":0.86,"v":3.9},{"a":1.15,"v":4.5},{"a":1.44,"v":5.5},{"a":1.73,"v":6.9},{"a":2.02,"v":6.0},{"a":2.35,"v":6.7},{"a":2.59,"v":6.0},{"a":2.88,"v":5.2},{"a":3.17,"v":6.7},{"a":3.33,"v":7.5},{"a":3.56,"v":5.2},{"a":3.85,"v":4.0},{"a":4.23,"v":3.7},{"a":4.62,"v":5.0},{"a":4.95,"v":5.3},{"a":5.19,"v":5.9},{"a":5.48,"v":4.5},{"a":5.77,"v":3.5},{"a":5.96,"v":2.5},{"a":6.11,"v":2.3},{"a":6.4,"v":3.0},{"a":6.69,"v":3.5},{"a":7.02,"v":2.4},{"a":7.41,"v":1.6},{"a":7.89,"v":1.3},{"a":8.37,"v":1.6},{"a":8.71,"v":2.0},{"a":9.19,"v":2.9},{"a":9.67,"v":3.7},{"a":9.91,"v":5.6},{"a":10.1,"v":7.8},{"a":10.25,"v":8.9},{"a":10.39,"v":8.0},{"a":10.58,"v":5.3},{"a":10.87,"v":4.0},{"a":11.11,"v":4.1},{"a":11.38,"v":4.6},{"a":11.55,"v":3.5},{"a":11.74,"v":2.0},{"a":11.98,"v":2.0}],
"h_red":[{"a":0.0,"v":14.6},{"a":0.21,"v":14.9},{"a":0.33,"v":13.6},{"a":0.43,"v":10.4},{"a":0.55,"v":7.2},{"a":0.67,"v":5.5},{"a":0.86,"v":5.9},{"a":1.05,"v":6.9},{"a":1.2,"v":7.5},{"a":1.34,"v":7.6},{"a":1.49,"v":9.3},{"a":1.68,"v":10.9},{"a":1.82,"v":11.0},{"a":2.06,"v":10.3},{"a":2.31,"v":10.7},{"a":2.5,"v":9.9},{"a":2.69,"v":7.7},{"a":2.84,"v":7.1},{"a":3.03,"v":8.8},{"a":3.22,"v":11.0},{"a":3.32,"v":11.9},{"a":3.41,"v":10.9},{"a":3.56,"v":8.3},{"a":3.75,"v":6.4},{"a":3.94,"v":6.4},{"a":4.23,"v":5.3},{"a":4.47,"v":6.1},{"a":4.71,"v":7.3},{"a":4.95,"v":7.8},{"a":5.19,"v":8.6},{"a":5.34,"v":8.0},{"a":5.48,"v":6.1},{"a":5.68,"v":5.1},{"a":5.82,"v":3.5},{"a":6.01,"v":2.8},{"a":6.3,"v":3.5},{"a":6.73,"v":4.8},{"a":7.02,"v":3.7},{"a":7.41,"v":2.5},{"a":7.74,"v":1.4},{"a":8.13,"v":2.7},{"a":8.42,"v":1.4},{"a":8.66,"v":2.8},{"a":8.9,"v":3.7},{"a":9.19,"v":4.5},{"a":9.48,"v":5.0},{"a":9.72,"v":5.6},{"a":9.91,"v":9.3},{"a":10.08,"v":13.1},{"a":10.21,"v":14.8},{"a":10.34,"v":13.1},{"a":10.51,"v":9.6},{"a":10.73,"v":7.5},{"a":10.95,"v":5.9},{"a":11.16,"v":7.5},{"a":11.38,"v":9.4},{"a":11.52,"v":7.7},{"a":11.64,"v":3.5},{"a":11.79,"v":2.4},{"a":11.98,"v":2.1}]
},
"layer":[
{"data":{"name":"regions"},"mark":{"type":"rect"},
 "encoding":{"x":{"field":"s","type":"quantitative","scale":{"domain":[0,12],"nice":false},
   "axis":{"orient":"bottom","values":[0,0.5,1,1.5,2,2.5,3,3.5,4,4.5,5,5.5,6,6.5,7,7.5,8,8.5,9,9.5,10,10.5,11,11.5,12],"labelExpr":"datum.value%1==0 ? format(datum.value,'d') : ''","tickSize":10,"labelPadding":16,"title":"Age (cal ka BP)","titlePadding":20,"titleFontSize":30}},
 "x2":{"field":"e"},
 "fill":{"field":"r","type":"nominal","scale":{"domain":["ENSO","mix","SWW"],"range":["#FEF0E6","#F2E3E9","#EEEEFC"]},"legend":null}}},
{"layer":[
 {"data":{"name":"regions"},"mark":{"type":"rect"},
  "encoding":{"x":{"field":"s","type":"quantitative","scale":{"domain":[0,12],"nice":false},"axis":null},"x2":{"field":"e"},
  "y":{"datum":0,"type":"quantitative","scale":{"domain":[0,1],"range":[23,0],"nice":false},"axis":null},"y2":{"datum":1},
  "color":{"field":"r","type":"nominal","scale":{"domain":["ENSO","mix","SWW"],"range":["#FFB482","#B1677E","#6A6AFF"]},"legend":null}}},
 {"data":{"values":[{}]},"mark":{"type":"text","text":"ENSO","fontSize":42,"color":"#FF6600","align":"center","baseline":"alphabetic"},
  "encoding":{"x":{"datum":2.58,"type":"quantitative","scale":{"domain":[0,12],"nice":false},"axis":null},
  "y":{"datum":1.39,"type":"quantitative","scale":{"domain":[0,1],"range":[23,0],"nice":false},"axis":null}}},
 {"data":{"values":[{}]},"mark":{"type":"text","text":"SWW","fontSize":42,"color":"#6B6BFF","align":"center","baseline":"alphabetic"},
  "encoding":{"x":{"datum":8.49,"type":"quantitative","scale":{"domain":[0,12],"nice":false},"axis":null},
  "y":{"datum":1.39,"type":"quantitative","scale":{"domain":[0,1],"range":[23,0],"nice":false},"axis":null}}}
]},
{"layer":[
 {"data":{"name":"h_bars"},"mark":{"type":"rule","color":"#000","strokeWidth":2.9},
  "encoding":{"x":{"field":"a","type":"quantitative","scale":{"domain":[0,12],"nice":false},"axis":null},
  "y":{"field":"v","type":"quantitative","scale":{"domain":[0,40],"range":[850,600],"nice":false},
   "axis":{"orient":"left","values":[0,5,10,15,20,25,30,35,40],"labelExpr":"datum.value%10==0 ? format(datum.value,'d') : ''","tickSize":{"condition":{"test":"datum.value%10!=0","value":8},"value":13},"labelPadding":15,"title":["Influx of Charcoal","(pieces cm⁻² yr⁻¹)"],"titlePadding":28,"titleLineHeight":34}},
  "y2":{"datum":0}}},
 {"data":{"name":"h_grey"},"mark":{"type":"line","color":"#9a9a9a","strokeWidth":6,"interpolate":"monotone"},
  "encoding":{"x":{"field":"a","type":"quantitative","scale":{"domain":[0,12],"nice":false},"axis":null},
  "y":{"field":"v","type":"quantitative","scale":{"domain":[0,40],"range":[850,600],"nice":false}}}},
 {"data":{"name":"h_red"},"mark":{"type":"line","color":"#ff0000","strokeWidth":3.5,"interpolate":"monotone"},
  "encoding":{"x":{"field":"a","type":"quantitative","scale":{"domain":[0,12],"nice":false},"axis":null},
  "y":{"field":"v","type":"quantitative","scale":{"domain":[0,40],"range":[850,600],"nice":false}}}},
 {"data":{"values":[{}]},"mark":{"type":"text","text":"h","fontSize":42,"color":"#000","align":"center","baseline":"alphabetic"},
  "encoding":{"x":{"datum":11.57,"type":"quantitative","scale":{"domain":[0,12],"nice":false},"axis":null},
  "y":{"datum":29.1,"type":"quantitative","scale":{"domain":[0,40],"range":[850,600],"nice":false}}}}
]},
{"layer":[
 {"data":{"name":"g_pts"},"mark":{"type":"point","filled":true,"color":"#9a9a9a","opacity":0.45,"size":95,"stroke":"#888","strokeWidth":0.6},
  "encoding":{"x":{"field":"a","type":"quantitative","scale":{"domain":[0,12],"nice":false},"axis":null},
  "y":{"field":"v","type":"quantitative","scale":{"domain":[0,1000],"range":[593,343],"nice":false},
   "axis":{"orient":"right","values":[0,100,200,300,400,500,600,700,800,900,1000],"labelExpr":"datum.value%200==0 ? format(datum.value,'d') : ''","tickSize":{"condition":{"test":"datum.value%200!=0","value":8},"value":14},"labelPadding":12,"title":["Iron Content","(integer)"],"titlePadding":2,"titleLineHeight":36}}}},
 {"data":{"name":"g_line"},"mark":{"type":"line","color":"#333","strokeWidth":4},
  "encoding":{"x":{"field":"a","type":"quantitative","scale":{"domain":[0,12],"nice":false},"axis":null},
  "y":{"field":"v","type":"quantitative","scale":{"domain":[0,1000],"range":[593,343],"nice":false}}}},
 {"data":{"name":"crosses"},"mark":{"type":"point","shape":"M-1,0L1,0M0,-1L0,1","filled":false,"color":"#ff0000","strokeWidth":2,"size":400,"opacity":1},
  "encoding":{"x":{"field":"a","type":"quantitative","scale":{"domain":[0,12],"nice":false},"axis":null},
  "y":{"datum":48,"type":"quantitative","scale":{"domain":[0,1000],"range":[593,343],"nice":false}}}},
 {"data":{"values":[{}]},"mark":{"type":"text","text":"g","fontSize":42,"color":"#000","align":"center","baseline":"alphabetic"},
  "encoding":{"x":{"datum":0.2,"type":"quantitative","scale":{"domain":[0,12],"nice":false},"axis":null},
  "y":{"datum":840,"type":"quantitative","scale":{"domain":[0,1000],"range":[593,343],"nice":false}}}}
]},
{"layer":[
 {"data":{"name":"f_pts"},"mark":{"type":"point","filled":true,"color":"#999","opacity":0.8,"size":110},
  "encoding":{"x":{"field":"a","type":"quantitative","scale":{"domain":[0,12],"nice":false},"axis":null},
  "y":{"field":"v","type":"quantitative","scale":{"domain":[0,2],"range":[320,70],"nice":false},
   "axis":{"orient":"left","values":[0,0.2,0.4,0.6,0.8,1,1.2,1.4,1.6,1.8,2],"labelExpr":"round(datum.value*10)%4==0 ? format(datum.value,'~g') : ''","tickSize":{"condition":{"test":"round(datum.value*10)%4!=0","value":8},"value":13},"labelPadding":15,"title":["Precipitation index","(Standardized Ratio)"],"titlePadding":25,"titleLineHeight":33}}}},
 {"data":{"name":"f_line"},"mark":{"type":"line","color":"#333","strokeWidth":3.5},
  "encoding":{"x":{"field":"a","type":"quantitative","scale":{"domain":[0,12],"nice":false},"axis":null},
  "y":{"field":"v","type":"quantitative","scale":{"domain":[0,2],"range":[320,70],"nice":false}}}},
 {"data":{"values":[{}]},"mark":{"type":"text","text":"f","fontSize":42,"color":"#000","align":"center","baseline":"alphabetic"},
  "encoding":{"x":{"datum":11.65,"type":"quantitative","scale":{"domain":[0,12],"nice":false},"axis":null},
  "y":{"datum":1.70,"type":"quantitative","scale":{"domain":[0,2],"range":[320,70],"nice":false}}}}
]}
],
"resolve":{"scale":{"y":"independent"},"axis":{"y":"independent","x":"independent"}}
}
